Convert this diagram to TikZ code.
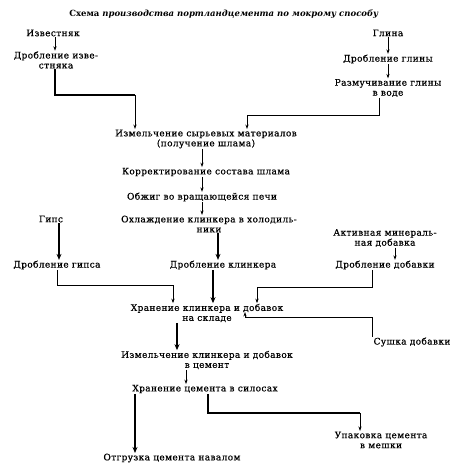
\documentclass[tikz,border=0pt]{standalone}
\usepackage{fontspec}
\setmainfont{DejaVu Serif}
\newfontfamily\bodyfont{DejaVu Serif}[FakeBold=0.5,LetterSpace=4]
\usetikzlibrary{arrows.meta}
\begin{document}
\begin{tikzpicture}[x=1pt,y=-1pt,
  lbl/.style={inner sep=0.5pt, align=center, font=\fontsize{9}{10}\bodyfont},
  ln/.style={line width=0.9pt},
  arr/.style={ln, -{Stealth[length=4.5pt,width=3.2pt]}},
  tarr/.style={line width=1.4pt, -{Stealth[length=6pt,width=5pt]}},
]
\useasboundingbox (0,0) rectangle (453,471);
% title
\node[inner sep=0pt, font=\fontsize{8.5}{10}\selectfont\bfseries] (title) at (224,14) {Схема \textit{производства портландцемента по мокрому способу}};
% nodes
\node[lbl] (izv) at (53,33) {Известняк};
\node[lbl] (dizv) at (56,60) {Дробление изве-\\стняка};
\node[lbl] (gl) at (388,33) {Глина};
\node[lbl] (dgl) at (388,59) {Дробление глины};
\node[lbl] (raz) at (388,88) {Размучивание глины\\в воде};
\node[lbl] (izm) at (206,139) {Измельчение сырьевых материалов\\(получение шлама)};
\node[lbl] (kor) at (206,172) {Корректирование состава шлама};
\node[lbl] (obzh) at (202,197) {Обжиг во вращающейся печи};
\node[lbl] (ohl) at (209,224) {Охлаждение клинкера в холодиль-\\ники};
\node[lbl] (gips) at (51,219) {Гипс};
\node[lbl] (amd) at (385,238) {Активная минераль-\\ная добавка};
\node[lbl] (dgips) at (57,265) {Дробление гипса};
\node[lbl] (dkl) at (223,265) {Дробление клинкера};
\node[lbl] (ddob) at (385,265) {Дробление добавки};
\node[lbl] (hran) at (207,313) {Хранение клинкера и добавок\\на складе};
\node[lbl] (sush) at (412,342) {Сушка добавки};
\node[lbl] (izmk) at (207,360) {Измельчение клинкера и добавок\\в цемент};
\node[lbl] (hc) at (205,389) {Хранение цемента в силосах};
\node[lbl] (otgr) at (172,458) {Отгрузка цемента навалом};
\node[lbl] (upak) at (381,440) {Упаковка цемента\\в мешки};
% bend points
\coordinate (b1) at (135,95);
\coordinate (b2) at (247,115);
\coordinate (b3) at (173,285);
\coordinate (b4) at (257,287);
\coordinate (b5) at (245,317);
\coordinate (b5e) at (245,312);
\coordinate (b6) at (360,413);
% connectors
\draw[arr] (izv.south -| 55,0) -- (dizv.north -| 55,0);
\draw[line width=1.2pt] (dizv.south -| 55,0) |- (b1);
\draw[arr] (b1) -- (izm.north -| b1);
\draw[arr] (gl.south) -- (dgl.north);
\draw[arr] (dgl.south) -- (raz.north);
\draw[ln] (raz.south -| 379,0) |- (b2);
\draw[arr] (b2) -- (izm.north -| b2);
\draw[arr] (izm.south -| 202,0) -- (kor.north -| 202,0);
\draw[arr] (kor.south -| 202,0) -- (obzh.north -| 202,0);
\draw[arr] (obzh.south -| 202,0) -- (ohl.north -| 202,0);
\draw[tarr] (ohl.south -| 218,0) -- (dkl.north -| 218,0);
\draw[tarr] (gips.south -| 59,0) -- (dgips.north -| 59,0);
\draw[arr] (amd.south -| 395,0) -- (ddob.north -| 395,0);
\draw[ln] (dgips.south) |- (b3);
\draw[arr] (b3) -- (hran.north -| b3);
\draw[tarr] (dkl.south -| 213,0) -- (hran.north -| 213,0);
\draw[ln] (ddob.south -| 372,0) |- (b4);
\draw[arr] (b4) -- (hran.north -| b4);
\draw[ln] (sush.north west) |- (b5);
\draw[arr] (b5) -- (b5e);
\draw[tarr] (hran.south -| 177,0) -- (izmk.north -| 177,0);
\draw[arr] (izmk.south -| 186,0) -- (hc.north -| 186,0);
\draw[tarr] (hc.south -| 135,0) -- (otgr.north -| 135,0);
\draw[line width=1.2pt] (hc.south -| 208,0) |- (b6);
\draw[arr] (b6) -- (upak.north -| b6);
\end{tikzpicture}
\end{document}
